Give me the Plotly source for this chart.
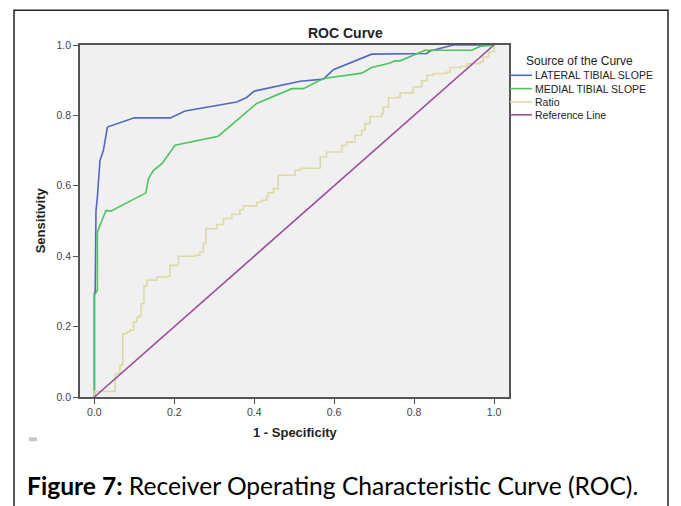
import plotly.graph_objects as go

# ---------------- data ----------------
lat_fpr = [0, 0, 0.002, 0.004, 0.0075, 0.014, 0.0225, 0.0325, 0.10, 0.19, 0.227, 0.356, 0.381,
           0.40, 0.515, 0.573, 0.598, 0.694, 0.832, 0.84, 0.898, 1.0]
lat_tpr = [0, 0.295, 0.30, 0.53, 0.568, 0.672, 0.70, 0.767, 0.793, 0.793, 0.8125, 0.838, 0.851,
           0.869, 0.897, 0.903, 0.93, 0.974, 0.976, 0.983, 1.0, 1.0]

med_fpr = [0, 0, 0.0075, 0.0075, 0.021, 0.029, 0.041, 0.129, 0.135, 0.148, 0.169, 0.202, 0.31,
           0.406, 0.494, 0.523, 0.573, 0.669, 0.694, 0.74, 0.752, 0.765, 0.798, 0.827, 0.865,
           0.944, 0.965, 1.0]
med_tpr = [0, 0.289, 0.303, 0.469, 0.507, 0.530, 0.528, 0.58, 0.62, 0.644, 0.663, 0.715, 0.741,
           0.834, 0.876, 0.876, 0.905, 0.920, 0.936, 0.949, 0.955, 0.955, 0.971, 0.985, 0.985,
           0.985, 0.996, 1.0]

ratio_fpr = [0, 0, 0.03, 0.052, 0.064, 0.071, 0.071, 0.081, 0.089, 0.098, 0.106, 0.113, 0.117,
             0.123, 0.124, 0.131, 0.156, 0.183, 0.189, 0.206, 0.21, 0.252, 0.264, 0.273, 0.279,
             0.306, 0.323, 0.344, 0.364, 0.373, 0.406, 0.419, 0.431, 0.435, 0.448, 0.46, 0.49,
             0.502, 0.515, 0.556, 0.565, 0.581, 0.615, 0.619, 0.631, 0.652, 0.669, 0.677, 0.69,
             0.719, 0.723, 0.736, 0.761, 0.765, 0.79, 0.798, 0.819, 0.832, 0.848, 0.882, 0.89,
             0.915, 0.932, 0.965, 0.973, 0.986, 1.0]
ratio_tpr = [0, 0.016, 0.016, 0.066, 0.09, 0.09, 0.18, 0.185, 0.19, 0.213, 0.227, 0.232, 0.265,
             0.265, 0.315, 0.332, 0.341, 0.343, 0.374, 0.374, 0.40, 0.403, 0.412, 0.436, 0.478,
             0.49, 0.507, 0.519, 0.532, 0.543, 0.554, 0.559, 0.57, 0.58, 0.592, 0.63, 0.63,
             0.644, 0.65, 0.65, 0.682, 0.696, 0.696, 0.715, 0.724, 0.743, 0.758, 0.777, 0.797,
             0.805, 0.824, 0.85, 0.852, 0.864, 0.864, 0.881, 0.898, 0.914, 0.919, 0.923, 0.936,
             0.939, 0.947, 0.952, 0.966, 0.98, 1.0]

ref_fpr = [0, 1]
ref_tpr = [0, 1]

series_names = ["LATERAL TIBIAL SLOPE", "MEDIAL TIBIAL SLOPE", "Ratio", "Reference Line"]
series_colors = ["#5468c2", "#4ec45e", "#ddd9a6", "#9a4d9c"]
tick_vals = [0.0, 0.2, 0.4, 0.6, 0.8, 1.0]
tick_text = ["0.0", "0.2", "0.4", "0.6", "0.8", "1.0"]

# ---------------- layout geometry ----------------
# page body has an 8px default margin; positions below are screen pixels
OFF = 8
W, H = 681 - OFF, 506 - OFF
L, R, T, B = 80, 509, 44.7, 396.7      # plot area in screen pixels
pw, ph = R - L, B - T


def px(x):
    return (x - L) / pw


def py(y):
    return (B - y) / ph


fig = go.Figure()
xs = [lat_fpr, med_fpr, ratio_fpr, ref_fpr]
ys = [lat_tpr, med_tpr, ratio_tpr, ref_tpr]
shapes_kind = ["linear", "linear", "hv", "linear"]
for name, col, x, y, sh in zip(series_names, series_colors, xs, ys, shapes_kind):
    fig.add_trace(go.Scatter(x=x, y=y, mode="lines", name=name,
                             line=dict(color=col, width=1.6, shape=sh),
                             showlegend=False))

chart_font = "Liberation Sans, Arial, sans-serif"
axis_common = dict(showline=True, linecolor="#555555", linewidth=1.5, mirror=True,
                   ticks="outside", ticklen=5, tickcolor="#555555", tickwidth=1,
                   showgrid=False, zeroline=False,
                   tickfont=dict(family=chart_font, size=10.5, color="#444444"),
                   tickvals=tick_vals, ticktext=tick_text)

fig.update_layout(
    width=W, height=H,
    margin=dict(l=L - OFF, r=W - (R - OFF), t=T - OFF, b=H - (B - OFF), autoexpand=False),
    paper_bgcolor="white", plot_bgcolor="#f0f0f0",
    xaxis=dict(range=[-0.036, 1.0375], **axis_common),
    yaxis=dict(range=[0, 1], **axis_common),
)

ann = []
# title
ann.append(dict(x=px(345), y=py(33), xref="paper", yref="paper", text="<b>ROC Curve</b>",
                showarrow=False, font=dict(family=chart_font, size=14, color="#222222"),
                xanchor="center", yanchor="middle"))
# axis titles
ann.append(dict(x=px(295), y=py(432), xref="paper", yref="paper", text="<b>1 - Specificity</b>",
                showarrow=False, font=dict(family=chart_font, size=13, color="#222222"),
                xanchor="center", yanchor="middle"))
ann.append(dict(x=px(40), y=py(220), xref="paper", yref="paper", text="<b>Sensitivity</b>",
                showarrow=False, textangle=-90, font=dict(family=chart_font, size=13, color="#222222"),
                xanchor="center", yanchor="middle"))
# legend (drawn)
ann.append(dict(x=px(524), y=py(60.7), xref="paper", yref="paper", text="Source of the Curve",
                showarrow=False, font=dict(family=chart_font, size=12, color="#222222"),
                xanchor="left", yanchor="middle"))
leg_y = [75, 88.3, 101.6, 114.5]
shapes = []
for name, col, yy in zip(series_names, series_colors, leg_y):
    shapes.append(dict(type="line", xref="paper", yref="paper", x0=px(510), x1=px(532),
                       y0=py(yy), y1=py(yy), line=dict(color=col, width=1.6)))
    ann.append(dict(x=px(533), y=py(yy), xref="paper", yref="paper", text=name,
                    showarrow=False, font=dict(family=chart_font, size=10.5, color="#222222"),
                    xanchor="left", yanchor="middle"))
# caption
ann.append(dict(x=px(25), y=py(485), xref="paper", yref="paper",
                text="<b>Figure 7:</b> Receiver Operating Characteristic Curve (ROC).",
                showarrow=False, font=dict(family="Lato, sans-serif", size=24.6, color="#000000"),
                xanchor="left", yanchor="middle"))

# outer frame
shapes.append(dict(type="rect", xref="paper", yref="paper", x0=px(14), x1=px(668),
                   y0=py(530), y1=py(10), line=dict(color="#222222", width=1.5),
                   fillcolor="rgba(0,0,0,0)", layer="below"))
# small grey mark
shapes.append(dict(type="rect", xref="paper", yref="paper", x0=px(29), x1=px(37),
                   y0=py(441), y1=py(437), line=dict(width=0), fillcolor="#c8c8c8"))

fig.update_layout(annotations=ann, shapes=shapes)
fig.write_html("out.html")
